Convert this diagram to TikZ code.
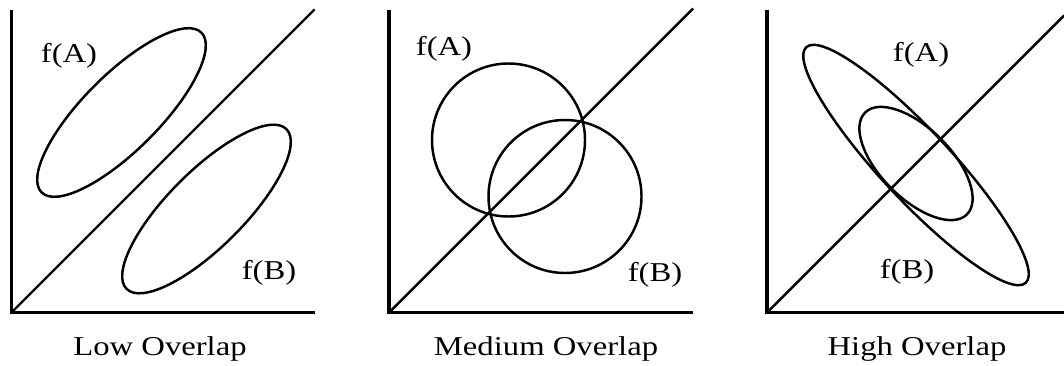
\documentclass[tikz,border=0pt]{standalone}
\usepackage{fontspec}
\setmainfont{Liberation Serif}
\usetikzlibrary{calc}
\newcommand{\wtext}[1]{\scalebox{1.2}[1]{#1}}

\begin{document}
\begin{tikzpicture}[x=0.02cm,y=-0.02cm,
  lab/.style={font=\fontsize{15.5}{18}\selectfont,anchor=base,inner sep=0pt},
  axis/.style={line width=2pt},
  curve/.style={line width=1.4pt}]
\useasboundingbox (0,0) rectangle (1064,365);
% low overlap
\coordinate (o1) at (11.5,312.5); \coordinate (y1) at (11.5,9.5);
\coordinate (x1) at (314.5,312.5); \coordinate (d1) at (314.5,9.5);
\draw[axis] (y1) -- (o1) -- (x1); \draw[curve] (o1) -- (d1);
\draw[curve,rotate around={45:(121.5,112.5)}] (121.5,112.5) ellipse [x radius=113,y radius=38];
\draw[curve,rotate around={45:(206.5,209)}] (206.5,209) ellipse [x radius=113,y radius=38];
\node[lab] (fa1) at (69,62) {\wtext{f(A)}};
\node[lab] (fb1) at (269,279) {\wtext{f(B)}};
\node[lab] (cap1) at (160,355) {\wtext{Low Overlap}};
% medium overlap
\coordinate (o2) at (389,312.5); \coordinate (y2) at (389,9.5);
\coordinate (x2) at (693,312.5); \coordinate (d2) at (693,8.5);
\draw[axis] (y2) -- (o2) -- (x2); \draw[curve] (o2) -- (d2);
\draw[curve] (508.5,140) circle [radius=76.5];
\draw[curve] (565,196.5) circle [radius=76.5];
\node[lab] (fa2) at (444,55) {\wtext{f(A)}};
\node[lab] (fb2) at (655,281) {\wtext{f(B)}};
\node[lab] (cap2) at (546,355) {\wtext{Medium Overlap}};
% high overlap
\coordinate (o3) at (767,312.5); \coordinate (y3) at (767,9.5);
\coordinate (x3) at (1064,312.5); \coordinate (d3) at (1064,15.5);
\draw[axis] (y3) -- (o3) -- (x3); \draw[curve] (o3) -- (d3);
\draw[curve,rotate around={-47:(916,165)}] (916,165) ellipse [x radius=161,y radius=35];
\draw[curve,rotate around={-45:(916,163.5)}] (916,163.5) ellipse [x radius=72,y radius=35];
\node[lab] (fa3) at (921,61) {\wtext{f(A)}};
\node[lab] (fb3) at (907,278) {\wtext{f(B)}};
\node[lab] (cap3) at (917,355) {\wtext{High Overlap}};
\end{tikzpicture}
\end{document}
